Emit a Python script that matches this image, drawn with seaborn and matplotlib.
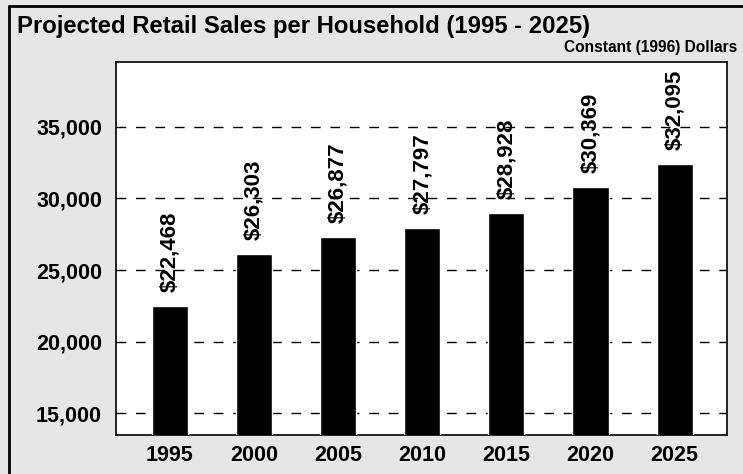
import matplotlib
matplotlib.use("Agg")
import matplotlib.pyplot as plt
import seaborn as sns
from matplotlib.lines import Line2D

years = ["1995", "2000", "2005", "2010", "2015", "2020", "2025"]
bar_values = [22470, 26100, 27300, 27950, 29000, 30800, 32400]
value_labels = ["$22,468", "$26,303", "$26,877", "$27,797", "$28,928", "$30,369", "$32,095"]
y_ticks = [15000, 20000, 25000, 30000, 35000]
y_tick_labels = ["15,000", "20,000", "25,000", "30,000", "35,000"]

sns.set_style("white")
plt.rcParams['font.family'] = ['Liberation Sans', 'DejaVu Sans']
plt.rcParams['text.color'] = 'black'
plt.rcParams['xtick.color'] = 'black'
plt.rcParams['ytick.color'] = 'black'
plt.rcParams['xtick.labelcolor'] = 'black'
plt.rcParams['ytick.labelcolor'] = 'black'

bg = "#e6e6e6"
fig = plt.figure(figsize=(7.43, 4.74), dpi=100, facecolor=bg)
ax = fig.add_axes([116/743, 1-435/474, (727-116)/743, (435-62)/474])
ax.set_facecolor("white")

sns.barplot(x=years, y=bar_values, color="black", saturation=1, width=0.43, ax=ax, zorder=3)

ax.set_xlim(-0.642, 6.623)
ax.set_ylim(13490, 39510)
ax.set_yticks(y_ticks)
ax.set_yticklabels(y_tick_labels)
ax.yaxis.grid(True, linestyle=(0, (7, 7)), color="black", linewidth=1.0, zorder=1)
ax.xaxis.grid(False)
ax.set_axisbelow(True)
ax.tick_params(axis="both", length=0, labelsize=15.5, labelcolor="black")
ax.tick_params(axis="y", pad=10)
ax.tick_params(axis="x", pad=7)
for lab in ax.get_xticklabels() + ax.get_yticklabels():
    lab.set_fontweight("bold")
    lab.set_color("black")
ax.set_xlabel("")
ax.set_ylabel("")
for s in ax.spines.values():
    s.set_color("black")
    s.set_linewidth(1.2)
    s.set_visible(True)

for i, (v, t) in enumerate(zip(bar_values, value_labels)):
    ax.annotate(t, xy=(i, v), xytext=(0, 10), textcoords="offset points",
                rotation=90, ha="center", va="bottom", fontsize=16,
                fontweight="bold", color="black", zorder=4)

fig.text(17/743, 1-33/474, "Projected Retail Sales per Household (1995 - 2025)",
         ha="left", va="baseline", fontsize=17.2, fontweight="bold", color="black")
fig.text(737/743, 1-52/474, "Constant (1996) Dollars",
         ha="right", va="baseline", fontsize=11.2, fontweight="bold", color="black")

fig.add_artist(Line2D([8.5/743, 8.5/743], [0, 1-6/474], color="black", linewidth=2.0, transform=fig.transFigure))
fig.add_artist(Line2D([8.5/743, 1], [1-6/474, 1-6/474], color="black", linewidth=2.0, transform=fig.transFigure))

fig.savefig("out.png", dpi=100, facecolor=bg)
